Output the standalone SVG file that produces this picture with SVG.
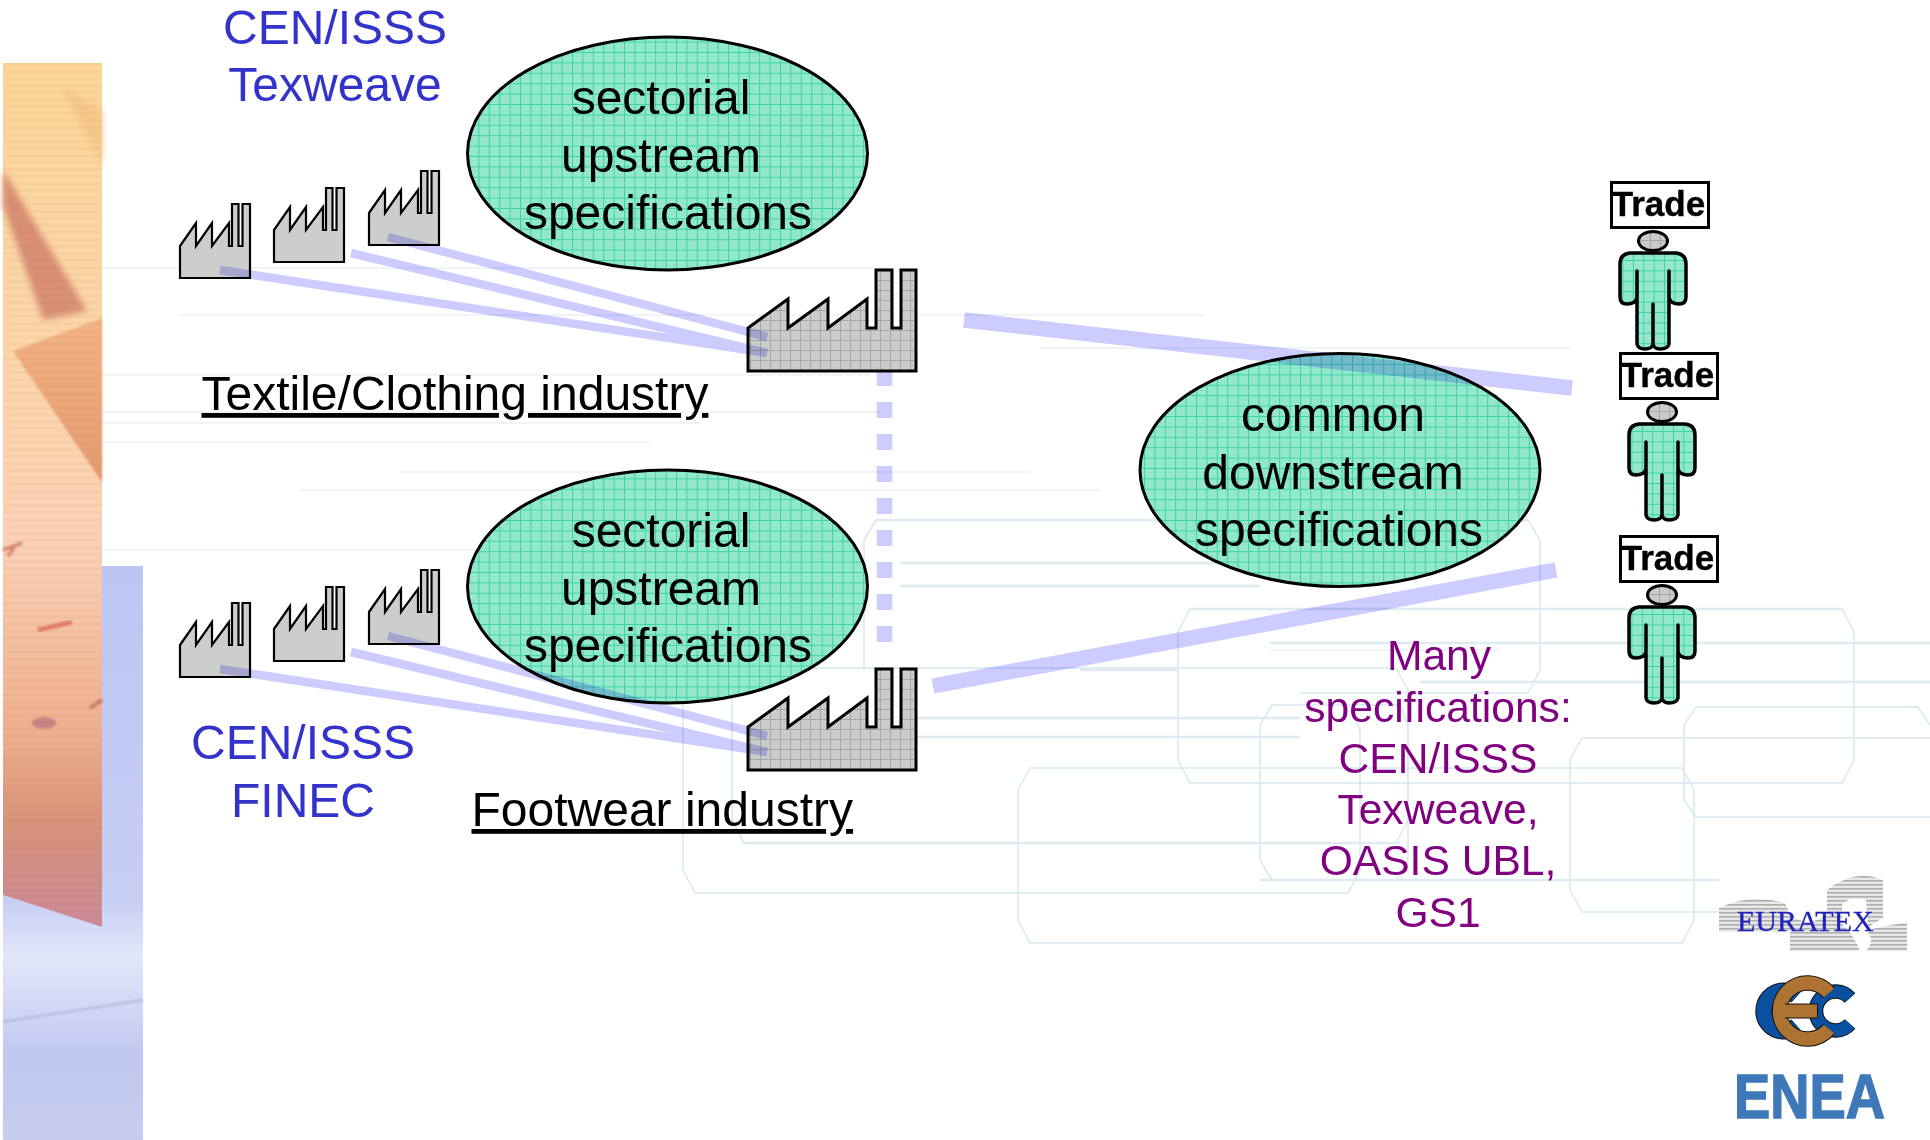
<svg xmlns="http://www.w3.org/2000/svg" width="1930" height="1140" viewBox="0 0 1930 1140">
<style>
text{font-family:"Liberation Sans",Arial,sans-serif}
.b{font-size:48px;fill:#000;text-anchor:middle}
.u{font-size:48px;fill:#3333cc;text-anchor:middle}
.p{font-size:42.6px;fill:#800080;text-anchor:middle}
.t{font-size:35px;font-weight:bold;fill:#000;stroke:#000;stroke-width:0.4;text-anchor:middle}
.ul{font-size:48px;fill:#000;text-decoration:underline;text-decoration-thickness:3.5px;text-decoration-skip-ink:none}
.oval{fill:url(#mint);stroke:#000;stroke-width:3}
.fac{fill:url(#gray);stroke:#000;stroke-width:3;stroke-linejoin:miter}
.fs{fill:#cdcdcd;stroke:#000;stroke-width:2.2;stroke-linejoin:miter}
.box{fill:#fff;stroke:#000;stroke-width:3}
.body{fill:url(#mint);stroke:#000;stroke-width:3.5;stroke-linejoin:round}
.head{fill:url(#gray);stroke:#000;stroke-width:3}
.bg1{fill:none;stroke:#d6e9f0;stroke-width:1.5}
.bg2{fill:none;stroke:#f0f4f7;stroke-width:2}
.bg3{fill:none;stroke:#dfebf1;stroke-width:2.5}
#connectors{mix-blend-mode:multiply}
#connectors line{stroke:#ccccff;fill:none}
.thin{stroke-width:8.5}
.thick{stroke-width:15.5}
</style>
<defs>
<pattern id="mint" width="10.4" height="10.4" patternUnits="userSpaceOnUse">
<rect width="10.4" height="10.4" fill="#92e7cd"/>
<path d="M0,0.5H10.4M0.5,0V10.4" stroke="#3cd3a6" stroke-width="1" fill="none"/>
</pattern>
<pattern id="gray" width="10" height="10" patternUnits="userSpaceOnUse">
<rect width="10" height="10" fill="#cbcbcb"/>
<path d="M0,0.5H10M0.5,0V10" stroke="#a6a6a6" stroke-width="1" fill="none"/>
</pattern>
<pattern id="stripes" width="4" height="4" patternUnits="userSpaceOnUse">
<rect width="4" height="4" fill="#e8e8e8"/>
<rect width="4" height="1.6" fill="#aeaeae"/>
</pattern>
<pattern id="scan" width="6" height="7" patternUnits="userSpaceOnUse">
<rect width="6" height="3" fill="#b06040" opacity="0.05"/>
</pattern>
<linearGradient id="orange" x1="0" y1="63" x2="0" y2="927" gradientUnits="userSpaceOnUse">
<stop offset="0" stop-color="#fbd697"/>
<stop offset="0.35" stop-color="#fbd6ab"/>
<stop offset="0.55" stop-color="#fbd2b6"/>
<stop offset="0.78" stop-color="#eeae8e"/>
<stop offset="0.88" stop-color="#d9927a"/>
<stop offset="1" stop-color="#c98a98"/>
</linearGradient>
<linearGradient id="peri" x1="0" y1="566" x2="0" y2="1140" gradientUnits="userSpaceOnUse">
<stop offset="0" stop-color="#bdc6f3"/>
<stop offset="0.58" stop-color="#c6cef4"/>
<stop offset="0.68" stop-color="#e2e6fa"/>
<stop offset="0.75" stop-color="#d5dbf7"/>
<stop offset="0.85" stop-color="#c0c8f0"/>
<stop offset="1" stop-color="#c6cdef"/>
</linearGradient>
<linearGradient id="tri" x1="0" y1="0" x2="0" y2="1">
<stop offset="0" stop-color="#f2b384"/>
<stop offset="1" stop-color="#e49a70"/>
</linearGradient>
<filter id="blur" x="-20%" y="-20%" width="140%" height="140%"><feGaussianBlur stdDeviation="3"/></filter>
<filter id="soft" x="-20%" y="-20%" width="140%" height="140%"><feGaussianBlur stdDeviation="0.8"/></filter>
<filter id="tiny" x="-5%" y="-5%" width="110%" height="110%"><feGaussianBlur stdDeviation="0.4"/></filter>
<path id="bigF" class="fac" d="M748,328 L788,299 V328 L828,299 V328 L867,299 V328 H876 V270 H892 V328 H901 V270 H916 V371 H748 Z"/>
<path id="smF" class="fs" d="M180,246 L196,223 V246 L212,223 V246 L229,223 V246 H232 V204 H238.5 V246 H242.5 V204 H250 V278 H180 Z"/>
<g id="man">
<rect class="box" x="1611.5" y="182.5" width="97" height="45"/>
<text class="t" x="1658.5" y="216">Trade</text>
<ellipse class="head" cx="1653" cy="241" rx="14.5" ry="9.5"/>
<path class="body" d="M1630,253 H1676 Q1686,254 1686,264 V297 Q1686,304 1679,304 Q1671,304 1669,298 V271 V344 Q1668,349 1660,349 Q1654,349 1653,344 V304 V344 Q1652,349 1645,349 Q1638,349 1637,344 V271 V298 Q1635,304 1627,304 Q1620,304 1620,297 V264 Q1620,254 1630,253 Z"/>
</g>
</defs>

<rect width="1930" height="1140" fill="#fff"/>

<g id="background">
<path class="bg2" d="M60,268H890M180,315H1205M1040,348H1570M100,375H870M60,423H700M20,442H650M100,412H880M400,472H1030M300,490H1100M100,550H700M30,600H140M1270,650H1500"/>
<path class="bg1" d="M1190,609H1842L1854,632V760L1842,783H1190L1178,760V632Z"/>
<path class="bg1" d="M1272,705H1400L1408,725V860L1396,880H1272L1260,860V725Z"/>
<path class="bg1" d="M1030,768H1682L1694,790V920L1682,943H1030L1018,920V790Z"/>
<path class="bg1" d="M1582,738H1930M1582,912H1720M1582,738L1570,760V890L1582,912"/>
<path class="bg1" d="M1696,707H1918L1930,725M1696,817H1930M1696,707L1684,725V800L1696,817"/>
<path class="bg1" d="M695,893H1348L1360,870V730L1350,710"/>
<path class="bg1" d="M683,680V870L695,893"/>
<path class="bg1" d="M744,668H1396L1408,690V820L1396,843H744L732,820"/>
<path class="bg1" d="M732,820V690L744,668"/>
<path class="bg1" d="M876,520H1528L1540,540V670L1528,693H1300"/>
<path class="bg1" d="M864,670V540L876,520"/>
<path class="bg3" d="M1080,670H1178M1190,609H1842M1270,643H1930M1420,682H1930M900,718H1300M900,737H1300M744,843H1400M1260,880H1720M876,520H1528M900,563H1300M900,586H1260"/>
</g>

<g id="sidebar">
<path d="M102,566H143V1140H3V895L102,927Z" fill="url(#peri)"/>
<path d="M3,63H102V927L3,895Z" fill="url(#orange)"/>
<path d="M60,85L102,110V165Z" fill="#f5c88a" filter="url(#blur)"/>
<path d="M3,170L3,205L43,320L87,311Z" fill="#d88f74" filter="url(#blur)"/>
<path d="M13,351L102,318V482Z" fill="url(#tri)" filter="url(#soft)"/>
<path d="M3,550L22,543M8,556L14,548" stroke="#d98a76" stroke-width="3.5" fill="none" filter="url(#soft)"/>
<path d="M38,630L72,622" stroke="#df7a68" stroke-width="4.5" fill="none" filter="url(#soft)"/>
<ellipse cx="44" cy="723" rx="12" ry="6" fill="#c98383" filter="url(#soft)"/>
<path d="M90,708L102,700" stroke="#cf8070" stroke-width="4.5" filter="url(#soft)"/>
<path d="M3,63H102V927L3,895Z" fill="url(#scan)"/>
<path d="M3,1022L143,1000" stroke="#b0b6d8" stroke-width="2" filter="url(#soft)"/>
</g>

<g id="factory-a1"><use href="#smF"/></g>
<g id="factory-a2"><use href="#smF" transform="translate(94,-16)"/></g>
<g id="factory-a3"><use href="#smF" transform="translate(189,-33)"/></g>
<g id="factory-b1"><use href="#smF" transform="translate(0,399)"/></g>
<g id="factory-b2"><use href="#smF" transform="translate(94,383)"/></g>
<g id="factory-b3"><use href="#smF" transform="translate(189,366)"/></g>
<g id="factory-textile"><use href="#bigF"/></g>
<g id="factory-footwear"><use href="#bigF" transform="translate(0,399)"/></g>

<g id="oval-upstream-1"><ellipse class="oval" cx="667.5" cy="153.5" rx="200" ry="116.5"/></g>
<g id="oval-upstream-2"><ellipse class="oval" cx="667.5" cy="586.5" rx="200" ry="116.5"/></g>
<g id="oval-downstream"><ellipse class="oval" cx="1340" cy="470" rx="200" ry="116.5"/></g>

<g id="connectors">
<line class="thin" x1="220" y1="270" x2="767" y2="353"/>
<line class="thin" x1="351" y1="253" x2="767" y2="353"/>
<line class="thin" x1="388" y1="237" x2="767" y2="337"/>
<line class="thin" x1="220" y1="669" x2="767" y2="752"/>
<line class="thin" x1="351" y1="652" x2="767" y2="752"/>
<line class="thin" x1="388" y1="636" x2="767" y2="736"/>
<line class="thick" x1="964" y1="320" x2="1572" y2="388"/>
<line class="thick" x1="933" y1="686" x2="1556" y2="570"/>
<line stroke-width="15.5" stroke-dasharray="16 16" x1="884.5" y1="370" x2="884.5" y2="642"/>
</g>

<g id="label-upstream-1">
<text class="b" x="661" y="114">sectorial</text>
<text class="b" x="661" y="172">upstream</text>
<text class="b" x="668" y="229">specifications</text>
</g>
<g id="label-upstream-2">
<text class="b" x="661" y="547">sectorial</text>
<text class="b" x="661" y="605">upstream</text>
<text class="b" x="668" y="662">specifications</text>
</g>
<g id="label-downstream">
<text class="b" x="1333" y="431">common</text>
<text class="b" x="1333" y="489">downstream</text>
<text class="b" x="1339" y="546">specifications</text>
</g>

<g id="label-texweave">
<text class="u" x="335" y="44">CEN/ISSS</text>
<text class="u" x="335" y="101">Texweave</text>
</g>
<g id="label-finec">
<text class="u" x="303" y="759">CEN/ISSS</text>
<text class="u" x="303" y="817">FINEC</text>
</g>
<text class="ul" x="201.5" y="410">Textile/Clothing industry</text>
<text class="ul" x="471.5" y="826">Footwear industry</text>

<g id="label-many">
<text class="p" x="1439" y="670">Many</text>
<text class="p" x="1438" y="722">specifications:</text>
<text class="p" x="1438" y="773">CEN/ISSS</text>
<text class="p" x="1438" y="824">Texweave,</text>
<text class="p" x="1438" y="875">OASIS UBL,</text>
<text class="p" x="1438" y="927">GS1</text>
</g>

<g id="trade-1"><use href="#man"/></g>
<g id="trade-2"><use href="#man" transform="translate(9,171)"/></g>
<g id="trade-3"><use href="#man" transform="translate(9,354)"/></g>

<g id="logo-euratex">
<rect x="1719" y="874" width="188" height="77" fill="#fff"/>
<g fill="url(#stripes)" filter="url(#tiny)">
<path d="M1719,908 Q1750,893 1785,903 L1795,925 L1788,932 L1719,932 Z"/>
<path d="M1790,925 Q1795,912 1805,925 L1828,915 Q1850,925 1860,951 H1790 Z"/>
<path d="M1827,890 Q1855,868 1883,880 L1883,918 L1868,927 L1866,900 Q1850,895 1842,905 L1842,920 L1827,925 Z"/>
<path d="M1866,930 L1907,922 V951 H1866 Q1876,940 1866,930 Z"/>
</g>
<text x="1737" y="931" font-size="30" fill="#2222bb" stroke="#2222bb" stroke-width="0.3" style="font-family:'Liberation Serif',serif">EURATEX</text>
</g>

<g id="logo-cec" fill="none">
<path d="M1850,998 A19.5,19.5 0 1 0 1850,1024" stroke="#111" stroke-width="14.5"/>
<path d="M1850,998 A19.5,19.5 0 1 0 1850,1024" stroke="#0a50a0" stroke-width="12.5"/>
<path d="M1797,996 A20,20 0 1 0 1797,1026" stroke="#111" stroke-width="17"/>
<path d="M1797,996 A20,20 0 1 0 1797,1026" stroke="#0a50a0" stroke-width="15"/>
<path d="M1829,993 A28,28 0 1 0 1829,1029" stroke="#111" stroke-width="15.5"/>
<path d="M1829,993 A28,28 0 1 0 1829,1029" stroke="#ad7333" stroke-width="13.5"/>
<path d="M1785,1011 H1818" stroke="#111" stroke-width="15"/>
<path d="M1775,1011 H1817" stroke="#ad7333" stroke-width="13"/>
</g>

<g id="logo-enea">
<text x="1734" y="1118" font-size="63" font-weight="bold" fill="#3f78b8" stroke="#3f78b8" stroke-width="1.5" textLength="151" lengthAdjust="spacingAndGlyphs">ENEA</text>
</g>
</svg>
